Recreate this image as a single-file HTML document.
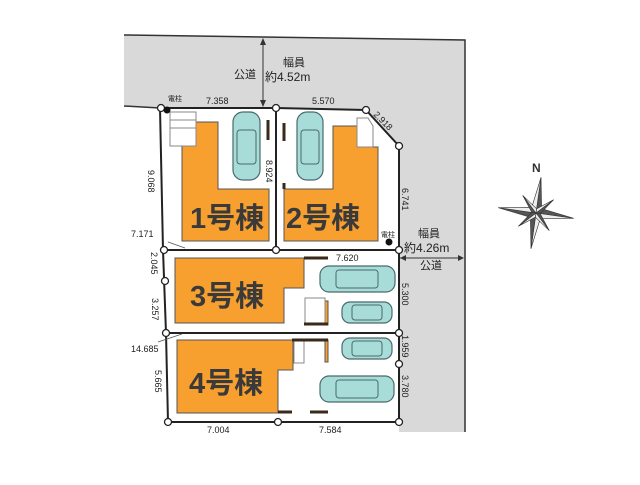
<!DOCTYPE html>
<html><head><meta charset="utf-8"><style>
body{margin:0;background:#fff;}
svg text{font-family:"Liberation Sans","Noto Sans CJK JP",sans-serif;}
</style></head><body>
<svg width="640" height="480" viewBox="0 0 640 480" xmlns="http://www.w3.org/2000/svg">
<polygon points="124,35 465,40 465,432 399,432 399,146 366,110 276,108 160,108 124,106" fill="#d9d9d9"/>
<polyline points="124,35 465,40 465,432" fill="none" stroke="#333" stroke-width="1.5"/>
<line x1="124" y1="106" x2="160" y2="108" stroke="#333" stroke-width="1.5"/>
<polygon points="160,108 276,108 366,110 399,146 399,422 168,422 166,333 163,250" fill="#fff" stroke="#222" stroke-width="2"/>
<line x1="276" y1="108" x2="276" y2="250" stroke="#222" stroke-width="2"/>
<line x1="163" y1="250" x2="399" y2="250" stroke="#222" stroke-width="2"/>
<line x1="166" y1="333" x2="399" y2="333" stroke="#222" stroke-width="2"/>
<g fill="#f7a030" stroke="#555" stroke-width="1">
<polygon points="182,122 218,122 218,189 269,189 269,241 182,241"/>
<polygon points="333,126 357,126 357,147 378,147 378,241 284,241 284,189 333,189"/>
<polygon points="175,258 304,258 304,288 284,288 284,323 175,323"/>
<polygon points="177,340 293,340 293,370 278,370 278,413 177,413"/>
<rect x="325" y="301" width="3" height="24"/>
<rect x="325" y="340" width="3" height="22"/>
</g>
<g fill="#fff" stroke="#888" stroke-width="1">
<rect x="170" y="112" width="26" height="34"/>
<line x1="170" y1="120" x2="196" y2="120"/><line x1="170" y1="128" x2="196" y2="128"/>
<polygon points="357,118 368,118 373,126 373,147 357,147"/>
<rect x="305" y="298" width="20" height="25"/>
<rect x="294" y="341" width="10" height="22"/>
</g>
<g stroke="#3a2a1a" stroke-width="3">
<line x1="268" y1="120" x2="268" y2="140"/><line x1="284" y1="123" x2="284" y2="141"/>
<line x1="284" y1="183" x2="284" y2="189"/>
<line x1="304" y1="258" x2="328" y2="258"/><line x1="304" y1="324" x2="328" y2="324"/>
<line x1="292" y1="340" x2="328" y2="340"/>
<line x1="278" y1="412" x2="292" y2="412"/><line x1="310" y1="412" x2="328" y2="412"/>
</g>
<g fill="#a8dcd8" stroke="#4a6a6a" stroke-width="1.2">
<rect x="233" y="112" width="27" height="68" rx="10"/>
<rect x="297" y="112" width="26" height="68" rx="10"/>
<rect x="320" y="266" width="75" height="26" rx="9"/>
<rect x="342" y="302" width="50" height="21" rx="8"/>
<rect x="342" y="338" width="50" height="21" rx="8"/>
<rect x="320" y="376" width="74" height="26" rx="9"/>
</g>
<g fill="none" stroke="#4a6a6a" stroke-width="1">
<rect x="237" y="130" width="19" height="34" rx="3"/><rect x="301" y="130" width="18" height="34" rx="3"/>
<rect x="336" y="270" width="42" height="18" rx="3"/><rect x="352" y="305" width="30" height="15" rx="3"/>
<rect x="352" y="341" width="30" height="15" rx="3"/><rect x="336" y="380" width="42" height="18" rx="3"/>
</g>
<g font-size="29" font-weight="bold" fill="#3a3a3a">
<text x="190" y="228">1号棟</text><text x="286" y="228">2号棟</text>
<text x="190" y="306">3号棟</text><text x="189" y="393">4号棟</text>
</g>
<g fill="#fff" stroke="#222" stroke-width="1.3">
<circle cx="161" cy="108" r="3.5"/><circle cx="276" cy="108" r="3.5"/><circle cx="366" cy="110" r="3.5"/>
<circle cx="399" cy="146" r="3.5"/><circle cx="399" cy="250" r="3.5"/><circle cx="276" cy="250" r="3.5"/>
<circle cx="164" cy="250" r="3.5"/><circle cx="165" cy="281" r="3.5"/><circle cx="166" cy="333" r="3.5"/>
<circle cx="399" cy="333" r="3.5"/><circle cx="399" cy="364" r="3.5"/><circle cx="399" cy="422" r="3.5"/>
<circle cx="168" cy="422" r="3.5"/><circle cx="278" cy="422" r="3.5"/>
</g>
<circle cx="167" cy="110" r="3.5" fill="#111"/><circle cx="389" cy="242" r="3.5" fill="#111"/>
<g font-size="7" fill="#222">
<text x="168" y="101">電柱</text><text x="381" y="237">電柱</text>
<text x="206" y="104" font-size="9">7.358</text><text x="312" y="104" font-size="9">5.570</text>
<text x="131" y="237" font-size="9">7.171</text><text x="131" y="352" font-size="9">14.685</text>
<text x="336" y="261" font-size="9">7.620</text>
<text x="207" y="433" font-size="9">7.004</text><text x="319" y="433" font-size="9">7.584</text>
</g>
<g font-size="9" fill="#222">
<text transform="translate(373,115) rotate(45)">2.918</text>
<text transform="translate(148,170) rotate(90)">9.068</text>
<text transform="translate(266,160) rotate(90)">8.924</text>
<text transform="translate(402,188) rotate(90)">6.741</text>
<text transform="translate(402,283) rotate(90)">5.300</text>
<text transform="translate(402,335) rotate(90)">1.959</text>
<text transform="translate(402,375) rotate(90)">3.780</text>
<text transform="translate(151,252) rotate(90)">2.045</text>
<text transform="translate(152,298) rotate(90)">3.257</text>
<text transform="translate(155,370) rotate(90)">5.665</text>
</g>
<line x1="168" y1="242" x2="185" y2="248" stroke="#555" stroke-width="0.8"/>
<line x1="158" y1="342" x2="182" y2="334" stroke="#555" stroke-width="0.8"/>
<line x1="263" y1="40" x2="263" y2="106" stroke="#333" stroke-width="1"/>
<polygon points="263,38 260,45 266,45" fill="#333"/><polygon points="263,107 260,100 266,100" fill="#333"/>
<g fill="#222">
<text x="283" y="66" font-size="11">幅員</text>
<text x="265" y="81" font-size="12">約4.52m</text>
<text x="234" y="78" font-size="11">公道</text>
<text x="418" y="237" font-size="11">幅員</text>
<text x="404" y="252" font-size="12">約4.26m</text>
<text x="420" y="269" font-size="11">公道</text>
</g>
<line x1="400" y1="258" x2="463" y2="258" stroke="#333" stroke-width="1"/>
<polygon points="400,258 406,255 406,261" fill="#333"/><polygon points="464,258 458,255 458,261" fill="#333"/>
<text x="532" y="172" font-size="12" font-weight="bold" fill="#333">N</text>
<g transform="translate(536,213) rotate(8)" fill="#555" stroke="#333" stroke-width="0.6">
<polygon points="0,-36 5,-5 0,0"/><polygon points="0,-36 -5,-5 0,0" fill="#eee"/>
<polygon points="0,36 5,5 0,0" fill="#eee"/><polygon points="0,36 -5,5 0,0"/>
<polygon points="-38,0 -5,5 0,0"/><polygon points="-38,0 -5,-5 0,0" fill="#eee"/>
<polygon points="38,0 5,-5 0,0"/><polygon points="38,0 5,5 0,0" fill="#eee"/>
<g transform="rotate(45)">
<polygon points="0,-22 3,-3 0,0"/><polygon points="0,-22 -3,-3 0,0" fill="#eee"/>
<polygon points="0,22 3,3 0,0" fill="#eee"/><polygon points="0,22 -3,3 0,0"/>
<polygon points="-22,0 -3,3 0,0"/><polygon points="-22,0 -3,-3 0,0" fill="#eee"/>
<polygon points="22,0 3,-3 0,0"/><polygon points="22,0 3,3 0,0" fill="#eee"/>
</g></g>
</svg>
</body></html>
